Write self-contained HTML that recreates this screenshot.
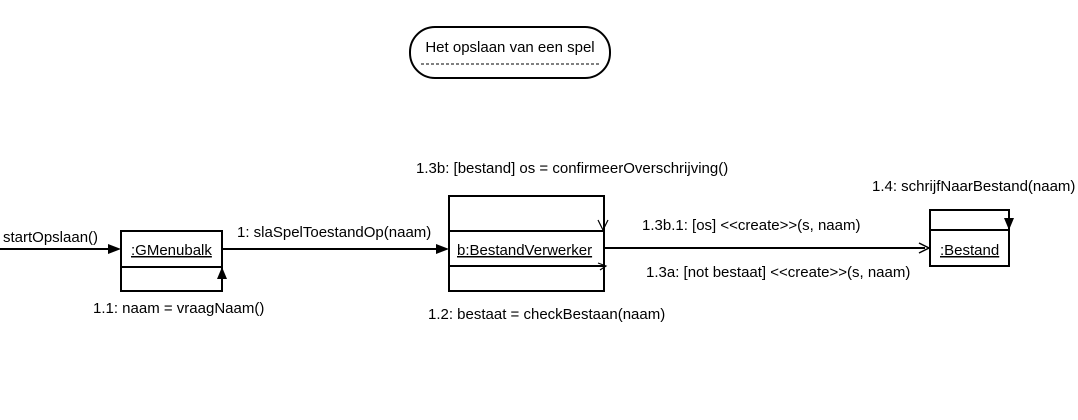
<!DOCTYPE html>
<html><head><meta charset="utf-8"><style>
html,body{margin:0;padding:0;background:#fff;}
svg{display:block;}
text{font-family:"Liberation Sans",Arial,sans-serif;font-size:15px;fill:#000;}
</style></head><body>
<svg width="1078" height="420" viewBox="0 0 1078 420" xmlns="http://www.w3.org/2000/svg">
<rect width="1078" height="420" fill="#fff"/>
<!-- title -->
<rect x="410" y="27" width="200" height="51" rx="25" ry="25" fill="none" stroke="#000" stroke-width="2"/>
<text x="510" y="52" text-anchor="middle">Het opslaan van een spel</text>
<line x1="421" y1="64" x2="599" y2="64" stroke="#000" stroke-dasharray="3,2"/>

<g stroke="#000" stroke-width="2" fill="none">
<rect x="121" y="231" width="101" height="60"/>
<line x1="121" y1="267" x2="222" y2="267"/>
<rect x="449" y="196" width="155" height="95"/>
<line x1="449" y1="231" x2="604" y2="231"/>
<line x1="449" y1="266" x2="604" y2="266"/>
<rect x="930" y="210" width="79" height="56"/>
<line x1="930" y1="230" x2="1009" y2="230"/>
<line x1="0" y1="249" x2="112" y2="249"/>
<line x1="222" y1="249" x2="440" y2="249"/>
<line x1="604" y1="248" x2="925" y2="248"/>
</g>
<polygon points="121,249 108,244 108,254" fill="#000"/>
<polygon points="449,249 436,244 436,254" fill="#000"/>
<polygon points="222,267 217,279 227,279" fill="#000"/>
<polygon points="1009,230 1004,218 1014,218" fill="#000"/>
<polyline points="919,243 929,248 919,253" fill="none" stroke="#000" stroke-width="1.5"/>
<polyline points="598,220 603,230 608,220" fill="none" stroke="#000" stroke-width="1.2"/>
<polyline points="598,263 606,266 600,270" fill="none" stroke="#000" stroke-width="1.2"/>

<text x="3" y="242">startOpslaan()</text>
<text x="131" y="255" text-decoration="underline">:GMenubalk</text>
<text x="237" y="237">1: slaSpelToestandOp(naam)</text>
<text x="93" y="313">1.1: naam = vraagNaam()</text>
<text x="457" y="255" text-decoration="underline">b:BestandVerwerker</text>
<text x="416" y="173">1.3b: [bestand] os = confirmeerOverschrijving()</text>
<text x="428" y="319">1.2: bestaat = checkBestaan(naam)</text>
<text x="642" y="230">1.3b.1: [os] &lt;&lt;create&gt;&gt;(s, naam)</text>
<text x="646" y="277">1.3a: [not bestaat] &lt;&lt;create&gt;&gt;(s, naam)</text>
<text x="872" y="191">1.4: schrijfNaarBestand(naam)</text>
<text x="940" y="255" text-decoration="underline">:Bestand</text>
</svg>
</body></html>
